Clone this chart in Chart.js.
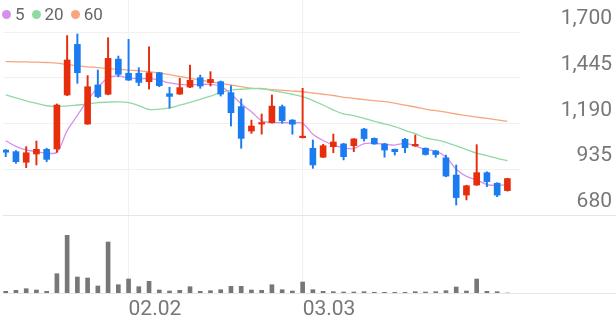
<!DOCTYPE html>
<html>
<head>
<meta charset="utf-8">
<script src="https://cdn.jsdelivr.net/npm/chart.js@4"></script>
<style>
  html, body { margin: 0; padding: 0; background: #fff; }
  #wrap { position: relative; width: 616px; height: 321px; }
  #legend { position: absolute; left: 2px; top: 4px; font: 17px Roboto; color: #666; display: flex; align-items: center; line-height: 20px; }
  #legend .dot { display: inline-block; width: 9px; height: 9px; border-radius: 50%; margin-right: 4px; }
  #legend .lbl { margin-right: 7px; }
</style>
</head>
<body>
<div id="wrap">
  <canvas id="chart" width="616" height="321"></canvas>
  <div id="legend"></div>
</div>
<script>
// daily candles
const dates = ["01.15","01.16","01.19","01.20","01.21","01.22","01.23","01.26","01.27","01.28",
  "01.29","01.30","02.02","02.03","02.04","02.05","02.06","02.09","02.10","02.11",
  "02.12","02.13","02.19","02.20","02.23","02.24","02.25","02.26","02.27","03.03",
  "03.04","03.05","03.06","03.09","03.10","03.11","03.12","03.13","03.16","03.17",
  "03.18","03.19","03.20","03.23","03.24","03.25","03.26","03.27","03.30","03.31"];
const opens = [1042,1033,974,1020,1046,1048,1349,1631,1187,1405,
  1353,1549,1470,1470,1423,1473,1356,1354,1393,1445,
  1418,1423,1362,1284,1148,1187,1194,1284,1209,1111,
  1052,1002,1061,1076,1066,1159,1107,1076,1046,1102,
  1065,1052,1037,999,903,791,847,916,857,816];
const highs = [1045,1039,1061,1092,1052,1299,1680,1689,1457,1488,
  1668,1566,1659,1501,1618,1475,1392,1442,1516,1460,
  1479,1427,1401,1327,1209,1243,1349,1293,1212,1386,
  1098,1074,1131,1080,1106,1163,1110,1080,1048,1108,
  1126,1054,1040,1014,959,846,1072,921,860,885];
const lows = [1005,968,944,959,977,1029,1345,1414,1185,1334,
  1350,1451,1430,1401,1382,1395,1275,1352,1390,1386,
  1399,1343,1176,1052,1135,1131,1192,1191,1130,1109,
  940,1000,1027,987,1033,1092,1074,1002,1014,1027,
  1063,1014,1002,893,736,764,845,838,782,813];
const closes = [1030,977,1027,1046,990,1293,1544,1473,1395,1340,
  1553,1464,1432,1419,1473,1401,1341,1390,1431,1399,
  1436,1354,1250,1107,1176,1194,1287,1206,1186,1117,
  959,1066,1087,1005,1104,1106,1076,1042,1033,1055,
  1074,1017,1017,897,777,843,916,866,791,883];
const volumes = [170,270,430,300,170,1930,5770,1600,1500,700,
  5100,830,1400,630,1170,300,200,270,630,170,
  230,330,670,670,300,270,830,330,200,1100,
  330,170,130,100,100,130,70,70,70,70,
  130,100,130,230,600,200,1400,170,130,0];

// moving averages
const ma5 = [1094,1063,1043,1033,1025,1030,1150,1235,1320,1390,
  1445,1455,1443,1440,1440,1432,1416,1408,1405,1408,
  1408,1398,1354,1300,1256,1205,1196,1195,1193,1191,
  1130,1095,1070,1055,1050,1078,1080,1075,1070,1079,
  1065,1045,1036,1003,935,895,875,850,845,850];
const ma20 = [1349,1333,1316,1302,1289,1285,1288,1293,1298,1306,
  1309,1311,1306,1290,1268,1270,1277,1292,1308,1325,
  1343,1363,1376,1381,1385,1385,1374,1364,1353,1340,
  1318,1293,1265,1243,1234,1218,1202,1188,1173,1152,
  1133,1110,1099,1085,1065,1045,1025,1011,996,983];
const ma60 = [1535,1534,1533,1532,1530,1527,1518,1512,1506,1502,
  1496,1492,1488,1484,1479,1472,1462,1452,1442,1432,
  1422,1413,1405,1395,1386,1383,1379,1375,1371,1367,
  1360,1353,1346,1336,1330,1323,1317,1312,1303,1292,
  1282,1270,1262,1253,1243,1234,1226,1218,1210,1202];

const maNames = ["5", "20", "60"];
const priceTicks = [680, 935, 1190, 1445, 1700];
const tickDates = ["02.02", "03.03"];

const UP = "#e62e0d";
const DOWN = "#1b7cf2";
const maColors = ["#d690ec", "#90daa2", "#f7a67f"];
const grid = "#f1f1f1";

const candleColor = dates.map((d, i) => (closes[i] >= opens[i] ? UP : DOWN));

function series(arr) {
  return arr.map((v, i) => ({ x: i, y: v }));
}

function buildLegend() {
  const el = document.getElementById("legend");
  maNames.forEach((name, i) => {
    const dot = document.createElement("span");
    dot.className = "dot";
    dot.style.background = maColors[i];
    const lbl = document.createElement("span");
    lbl.className = "lbl";
    lbl.textContent = name;
    el.appendChild(dot);
    el.appendChild(lbl);
  });
}

// full width separator lines (price panel bottom + volume baseline)
const separators = {
  id: "separators",
  beforeDatasetsDraw(chart) {
    const ctx = chart.ctx;
    const ys = [chart.scales.y.getPixelForValue(priceTicks[0]), chart.chartArea.bottom];
    ctx.save();
    ctx.strokeStyle = "#e6e6e6";
    ctx.lineWidth = 1;
    ys.forEach((y) => {
      const yy = Math.round(y) + 0.5;
      ctx.beginPath();
      ctx.moveTo(chart.chartArea.left, yy);
      ctx.lineTo(chart.width, yy);
      ctx.stroke();
    });
    ctx.restore();
  },
};

buildLegend();

const tickFont = { family: "Roboto", size: 21 };

new Chart(document.getElementById("chart"), {
  data: {
    datasets: [
      {
        type: "bar",
        data: dates.map((d, i) => ({ x: i, y: [opens[i], closes[i]] })),
        backgroundColor: candleColor,
        barThickness: 6,
        minBarLength: 1.5,
        grouped: false,
        order: 0,
      },
      {
        type: "bar",
        data: dates.map((d, i) => ({ x: i, y: [lows[i], highs[i]] })),
        backgroundColor: candleColor,
        barThickness: 1.3,
        grouped: false,
        order: 1,
      },
      ...[ma5, ma20, ma60].map((arr, k) => ({
        type: "line",
        data: series(arr),
        borderColor: maColors[k],
        borderWidth: 1.3,
        pointRadius: 0,
        tension: 0.35,
        order: 2,
      })),
      {
        type: "bar",
        yAxisID: "v",
        data: series(volumes),
        backgroundColor: "#777",
        barThickness: 4,
        grouped: false,
        order: 3,
      },
    ],
  },
  options: {
    responsive: false,
    animation: false,
    devicePixelRatio: 1,
    layout: { padding: { left: 3, top: 0, right: 0, bottom: 0 } },
    plugins: { legend: { display: false }, tooltip: { enabled: false } },
    scales: {
      x: {
        type: "linear",
        min: -0.264,
        max: 50.23,
        offset: false,
        grid: { color: grid, drawTicks: false, offset: false },
        border: { display: false },
        afterBuildTicks: (s) => {
          s.ticks = tickDates.map((d) => ({ value: dates.indexOf(d) }));
        },
        afterFit: (s) => {
          s.height = 28;
        },
        ticks: {
          font: tickFont,
          color: "#777",
          align: "start",
          padding: 4,
          maxRotation: 0,
          autoSkip: false,
          callback: (v) => dates[v],
        },
      },
      y: {
        position: "right",
        min: 245.2,
        max: 1878.4,
        grid: {
          drawTicks: false,
          color: (c) => (c.tick && c.tick.value === priceTicks[0] ? "rgba(0,0,0,0)" : grid),
        },
        border: { display: false },
        afterBuildTicks: (s) => {
          s.ticks = priceTicks.map((v) => ({ value: v }));
        },
        afterFit: (s) => {
          s.width = 96;
          s.paddingTop = 0;
          s.paddingBottom = 0;
        },
        ticks: {
          font: tickFont,
          color: "#777",
          mirror: true,
          padding: 92,
          labelOffset: -13,
          callback: (v) => v.toLocaleString("en-US"),
        },
      },
      v: {
        display: false,
        min: 0,
        max: 29300,
      },
    },
  },
  plugins: [separators],
});
</script>
</body>
</html>
